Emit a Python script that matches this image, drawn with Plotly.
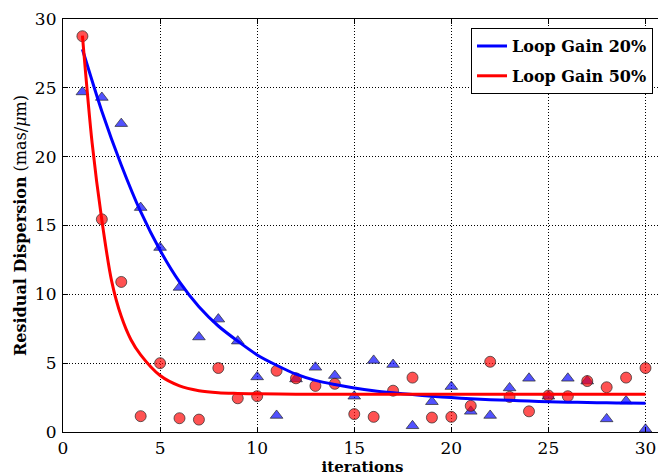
import plotly.graph_objects as go

iterations = list(range(1, 31))

gain20_points = [24.7, 24.3, 22.4, 16.3, 13.4, 10.5, 6.9, 8.2, 6.6, 4.0,
                 1.2, 3.85, 4.7, 4.1, 2.6, 5.2, 4.9, 0.45, 2.2, 3.3,
                 1.5, 1.2, 3.2, 3.9, 2.6, 3.9, 3.7, 0.95, 2.25, 0.2]

gain50_points = [28.75, 15.45, 10.9, 1.15, 5.0, 1.0, 0.9, 4.65, 2.45, 2.6,
                 4.45, 3.9, 3.35, 3.5, 1.3, 1.1, 3.0, 3.95, 1.05, 1.1,
                 1.9, 5.1, 2.55, 1.5, 2.65, 2.6, 3.7, 3.25, 3.95, 4.65]

fit20_x = [1, 2, 3, 4, 5, 6, 7, 8, 9, 10, 11, 12, 13, 14, 15, 16, 17, 18, 19, 20,
           21, 22, 23, 24, 25, 26, 27, 28, 29, 30]
fit20_y = [27.8, 23.3, 19.4, 16.0, 13.2, 10.9, 9.1, 7.7, 6.6, 5.6,
           4.85, 4.2, 3.75, 3.45, 3.2, 3.0, 2.85, 2.72, 2.6, 2.5,
           2.42, 2.35, 2.3, 2.25, 2.2, 2.17, 2.14, 2.12, 2.1, 2.08]

fit50_x = [1, 1.5, 2, 2.5, 3, 3.5, 4, 5, 6, 7, 8, 9, 10, 12, 15, 20, 25, 30]
fit50_y = [28.8, 21.0, 15.4, 11.0, 8.4, 6.7, 5.6, 4.1, 3.35, 3.0, 2.85, 2.8,
           2.77, 2.75, 2.75, 2.75, 2.75, 2.75]

ticks = [0, 5, 10, 15, 20, 25, 30]
legend_labels = ["Loop Gain 20%", "Loop Gain 50%"]

font_family = "DejaVu Serif"

fig = go.Figure()
fig.add_trace(go.Scatter(
    x=iterations, y=gain20_points, mode="markers", showlegend=False,
    marker=dict(symbol="triangle-up", size=11, color="rgba(0,0,255,0.68)",
                line=dict(color="rgba(40,40,40,0.7)", width=1)),
    cliponaxis=False))
fig.add_trace(go.Scatter(
    x=iterations, y=gain50_points, mode="markers", showlegend=False,
    marker=dict(symbol="circle", size=11, color="rgba(255,0,0,0.68)",
                line=dict(color="rgba(40,40,40,0.7)", width=1)),
    cliponaxis=False))
fig.add_trace(go.Scatter(
    x=fit20_x, y=fit20_y, mode="lines", name="<b>" + legend_labels[0] + "</b>",
    legendgroup="g20",
    line=dict(color="#0000ff", width=3, shape="spline", smoothing=0.8)))
fig.add_trace(go.Scatter(
    x=fit50_x, y=fit50_y, mode="lines", name="<b>" + legend_labels[1] + "</b>",
    legendgroup="g50",
    line=dict(color="#ff0000", width=3, shape="spline", smoothing=0.8)))

axis_common = dict(
    showline=True, linecolor="black", linewidth=1.2, mirror="allticks",
    ticks="inside", ticklen=5, tickcolor="black", tickwidth=1,
    showgrid=True, gridcolor="black", gridwidth=1, griddash="1px,2px",
    zeroline=False, tickvals=ticks, ticktext=[str(t) for t in ticks],
    tickfont=dict(family=font_family, size=17, color="black"),
    automargin=False, ticklabeloverflow="allow",
)

fig.update_xaxes(range=[0, 30.85], title=dict(text="<b>iterations</b>", standoff=2,
                 font=dict(family=font_family, size=15, color="black")),
                 ticklabelstandoff=0, **axis_common)
fig.update_yaxes(range=[0, 30], title=dict(text="<b>Residual Dispersion</b> (mas/<i>μ</i>m)",
                 standoff=4, font=dict(family=font_family, size=16, color="black")),
                 ticklabelstandoff=2, **axis_common)

fig.update_layout(
    width=672, height=476,
    margin=dict(l=63, r=10, t=19, b=44),
    paper_bgcolor="white", plot_bgcolor="white",
    font=dict(family=font_family, size=15, color="black"),
    legend=dict(x=0.985, xanchor="right", y=0.978, yanchor="top",
                bgcolor="white", bordercolor="black", borderwidth=1,
                traceorder="grouped", tracegroupgap=6, itemwidth=30,
                font=dict(family=font_family, size=16, color="black")),
)

fig.write_html("out.html", config={"displayModeBar": False},
               post_script="document.body.style.margin='0';document.body.style.overflow='hidden';")
